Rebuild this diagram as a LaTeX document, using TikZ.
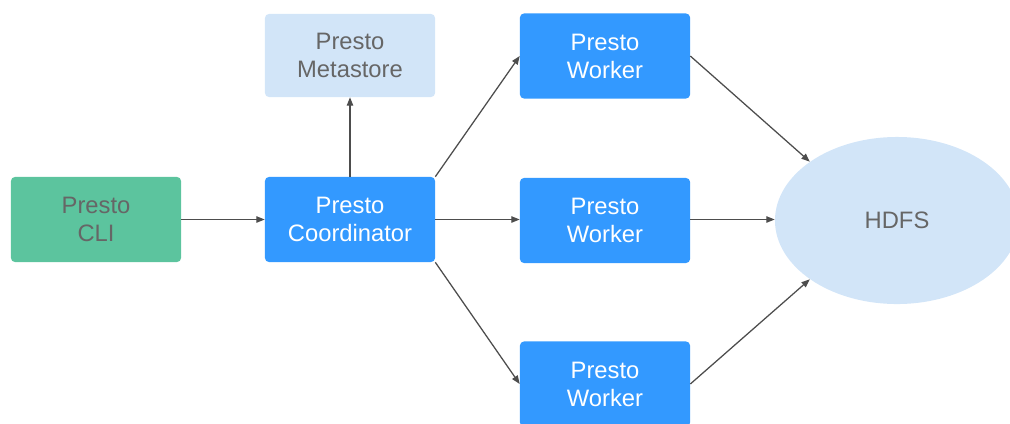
\documentclass[tikz,border=0pt]{standalone}
\usepackage{fontspec}
\setmainfont{Liberation Sans}
\usepackage{xcolor}
\usetikzlibrary{positioning, shapes.geometric, arrows.meta}
\definecolor{psgreen}{HTML}{5CC49E}
\definecolor{psblue}{HTML}{3399FF}
\definecolor{pslight}{HTML}{D2E5F8}
\definecolor{pstext}{HTML}{666666}
\definecolor{psline}{HTML}{4D4D4D}

\begin{document}
\begin{tikzpicture}[
  x=0.025cm, y=-0.025cm,
  box/.style={rounded corners=2.8pt, align=center, minimum width=4.25cm, minimum height=2.125cm, inner sep=0pt, font=\fontsize{16.9}{19.9}\selectfont},
  clibox/.style={box, fill=psgreen, text=pstext},
  runbox/.style={box, fill=psblue, text=white},
  metabox/.style={box, fill=pslight, text=pstext, minimum height=2.075cm},
  fsnode/.style={ellipse, fill=pslight, text=pstext, minimum width=6.1cm, minimum height=4.175cm, inner sep=0pt, font=\fontsize{16.9}{19.9}\selectfont},
  arr/.style={-{Triangle[length=6pt, width=4.6pt]}, line width=0.9pt, psline}
]
  \useasboundingbox (0,0) rectangle (1010,423);

  \node[clibox] (cli) at (96, 219.5) {Presto\\CLI};
  \node[runbox] (coord) at (350, 219.5) {Presto\\Coordinator};
  \node[metabox] (meta) at (350, 55.5) {Presto\\Metastore};

  \node[runbox] (worker1) at (605, 56) {Presto\\Worker};
  \node[runbox] (worker2) at (605, 220.5) {Presto\\Worker};
  \node[runbox] (worker3) at (605, 384) {Presto\\Worker};

  \node[fsnode] (hdfs) at (897, 220.5) {HDFS};

  \draw[arr] (cli.east) -- (coord.west);
  \draw[arr] (coord.north) -- (meta.south);
  \draw[arr] (coord.north east) -- (worker1.west);
  \draw[arr] (coord.east) -- (worker2.west |- coord.east);
  \draw[arr] (coord.south east) -- (worker3.west);
  \draw[arr] (worker1.east) -- (hdfs.146);
  \draw[arr] (worker2.east |- coord.east) -- (hdfs.west |- coord.east);
  \draw[arr] (worker3.east) -- (hdfs.214);
\end{tikzpicture}
\end{document}
